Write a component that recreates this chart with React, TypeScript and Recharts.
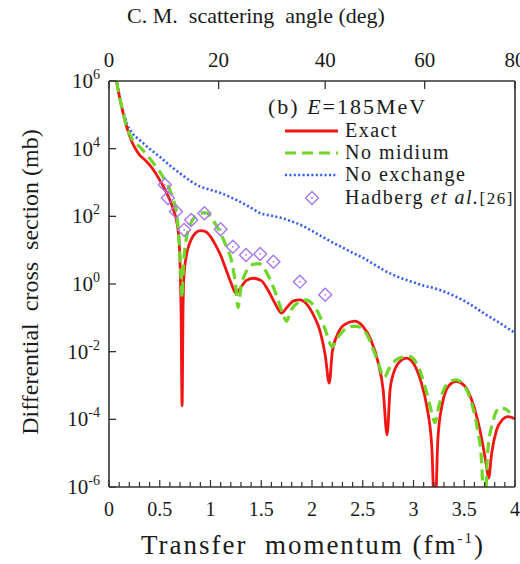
import React from "react";
import { ComposedChart, Line, Scatter, XAxis, YAxis } from "recharts";

const FONT = "'Liberation Serif', 'Times New Roman', Times, 'DejaVu Serif', serif";
const AXIS = "#333";
const RED = "#f31414";
const GREEN = "#6fd62a";
const BLUE = "#2f5bf0";
const PURPLE = "#a877f0";

// transfer momentum q (fm^-1) and log10 of the cross section (mb)
const exactQ = [
  0.05, 0.08, 0.12, 0.16, 0.2, 0.25, 0.3, 0.35, 0.4, 0.45, 0.5, 0.55, 0.6, 0.64, 0.67, 0.69, 0.7, 0.71,
  0.72, 0.73, 0.74, 0.76, 0.8, 0.85, 0.9, 0.95, 1.0, 1.05, 1.1, 1.15, 1.2, 1.25, 1.3, 1.35, 1.42, 1.5,
  1.57, 1.64, 1.7, 1.75, 1.82, 1.88, 1.95, 2.02, 2.08, 2.13, 2.17, 2.2, 2.25, 2.32, 2.42, 2.5, 2.58,
  2.65, 2.7, 2.74, 2.77, 2.82, 2.88, 2.93, 3.0, 3.07, 3.13, 3.18, 3.21, 3.24, 3.28, 3.35, 3.42, 3.5,
  3.57, 3.63, 3.68, 3.72, 3.74, 3.77, 3.82, 3.88, 3.93, 4.0,
];
const exactLog = [
  6.5, 5.9, 5.3, 4.8, 4.4, 4.05, 3.82, 3.68, 3.52, 3.32, 3.07, 2.8, 2.48, 2.15, 1.8, 1.3, 0.6, -0.8,
  -3.6, -0.6, 0.3, 0.8, 1.25, 1.5, 1.58, 1.55, 1.4, 1.15, 0.85, 0.45, 0.05, -0.27, -0.1, 0.1, 0.17, 0.1,
  -0.2, -0.6, -0.86, -0.7, -0.5, -0.47, -0.6, -0.95, -1.4, -2.1, -2.93, -2.0, -1.5, -1.2, -1.1, -1.25, -1.65,
  -2.3, -3.1, -4.46, -3.1, -2.5, -2.25, -2.19, -2.35, -2.85, -3.6, -4.8, -7, -4.6, -3.6, -3.0, -2.88, -3.0,
  -3.4, -4.0, -4.7, -5.4, -5.74, -5.0, -4.3, -4.0, -3.92, -3.98,
];

const noMediumQ = [
  0.05, 0.08, 0.12, 0.16, 0.2, 0.25, 0.3, 0.35, 0.4, 0.45, 0.5, 0.55, 0.6, 0.64, 0.67, 0.69, 0.71, 0.72,
  0.73, 0.75, 0.8, 0.85, 0.92, 0.96, 1.02, 1.09, 1.15, 1.22, 1.25, 1.27, 1.3, 1.35, 1.42, 1.48, 1.55,
  1.62, 1.68, 1.72, 1.75, 1.79, 1.86, 1.94, 2.0, 2.07, 2.13, 2.2, 2.25, 2.32, 2.4, 2.44, 2.52, 2.6, 2.66,
  2.71, 2.76, 2.85, 2.96, 3.04, 3.12, 3.18, 3.21, 3.25, 3.32, 3.42, 3.5, 3.57, 3.63, 3.67, 3.7, 3.73,
  3.78, 3.85, 3.91, 3.95,
];
const noMediumLog = [
  6.5, 5.9, 5.3, 4.8, 4.45, 4.18, 4.06, 3.9, 3.72, 3.52, 3.32, 3.07, 2.78, 2.45, 2.0, 1.3, 0.2, -0.4,
  0.3, 1.1, 1.75, 2.0, 2.1, 2.1, 1.9, 1.55, 1.15, 0.5, -0.1, -0.7, -0.1, 0.35, 0.58, 0.6, 0.35,
  -0.1, -0.6, -0.95, -1.1, -0.8, -0.55, -0.47, -0.58, -0.9, -1.35, -1.85, -1.6, -1.35, -1.25, -1.25, -1.4, -1.9, -2.4,
  -2.77, -2.5, -2.2, -2.14, -2.4, -3.1, -3.8, -4.1, -3.6, -3.0, -2.83, -3.0, -3.5, -4.3, -5.2, -7, -5.0,
  -4.1, -3.66, -3.7, -3.8,
];

const noExchangeQ = [
  0.06, 0.1, 0.14, 0.18, 0.22, 0.3, 0.4, 0.5, 0.6, 0.7, 0.8, 0.9, 1.0, 1.1, 1.2, 1.3, 1.4, 1.5, 1.6,
  1.7, 1.8, 1.9, 2.0, 2.1, 2.2, 2.3, 2.4, 2.5, 2.6, 2.7, 2.8, 2.9, 3.0, 3.1, 3.2, 3.3, 3.4, 3.5, 3.6,
  3.7, 3.8, 3.9, 4.0,
];
const noExchangeLog = [
  6.3, 5.6, 5.1, 4.72, 4.5, 4.26, 4.0, 3.76, 3.5, 3.27, 3.05, 2.88, 2.78, 2.69, 2.56, 2.42, 2.25, 2.08, 2.02,
  1.95, 1.85, 1.73, 1.57, 1.4, 1.23, 1.08, 0.92, 0.78, 0.6, 0.42, 0.27, 0.15, 0.05, -0.05, -0.12, -0.22, -0.35, -0.5, -0.68,
  -0.88, -1.06, -1.25, -1.45,
];

const hadbergQ = [0.55, 0.58, 0.66, 0.74, 0.81, 0.94, 1.1, 1.22, 1.35, 1.49, 1.62, 1.88, 2.13];
const hadbergLog = [2.93, 2.54, 2.14, 1.6, 1.89, 2.09, 1.62, 1.1, 0.86, 0.89, 0.66, 0.07, -0.32];

// axis ticks
const bottomTicks = [
  0, 0.1, 0.2, 0.3, 0.4, 0.5, 0.6, 0.7, 0.8, 0.9, 1, 1.1, 1.2, 1.3, 1.4, 1.5, 1.6, 1.7, 1.8, 1.9, 2,
  2.1, 2.2, 2.3, 2.4, 2.5, 2.6, 2.7, 2.8, 2.9, 3, 3.1, 3.2, 3.3, 3.4, 3.5, 3.6, 3.7, 3.8, 3.9, 4,
];
const bottomLabels = ["0", "0.5", "1", "1.5", "2", "2.5", "3", "3.5", "4"];
const topTickQ = [0, 1.08, 2.13, 3.11, 4];
const topTickDeg = ["0", "20", "40", "60", "80"];
const yTicks = [1e-6, 1e-4, 1e-2, 1, 1e2, 1e4, 1e6];
const yTickExp = ["-6", "-4", "-2", "0", "2", "4", "6"];

const toRows = (qs: number[], logs: number[]) => qs.map((q, i) => ({ q, v: Math.pow(10, logs[i]) }));

const exactData = toRows(exactQ, exactLog);
const noMediumData = toRows(noMediumQ, noMediumLog);
const noExchangeData = toRows(noExchangeQ, noExchangeLog);
const hadbergData = toRows(hadbergQ, hadbergLog);

const txt = (size: number, extra: React.CSSProperties = {}): React.CSSProperties => ({
  fontFamily: FONT,
  fontSize: size,
  fill: "#1a1a1a",
  ...extra,
});

function YTick(props: any) {
  const { x, y, payload } = props;
  const i = yTicks.indexOf(payload.value);
  return (
    <g>
      <line x1={x} x2={x + 7} y1={y} y2={y} stroke={AXIS} strokeWidth={1.3} />
      <text x={x - 9} y={y + 7} textAnchor="end" style={txt(21)}>
        10
        <tspan dy={-9} style={{ fontSize: 14 }}>
          {yTickExp[i]}
        </tspan>
      </text>
    </g>
  );
}

function BottomTick(props: any) {
  const { x, y, payload } = props;
  const v = payload.value;
  const major = Math.abs(v * 2 - Math.round(v * 2)) < 1e-6;
  return (
    <g>
      <line x1={x} x2={x} y1={y} y2={y - (major ? 7 : 5)} stroke={AXIS} strokeWidth={1.2} />
      {major && (
        <text x={x} y={y + 29} textAnchor="middle" style={txt(20)}>
          {bottomLabels[Math.round(v * 2)]}
        </text>
      )}
    </g>
  );
}

function TopTick(props: any) {
  const { x, y, payload } = props;
  const i = topTickQ.indexOf(payload.value);
  return (
    <g>
      <line x1={x} x2={x} y1={y} y2={y + 8} stroke={AXIS} strokeWidth={1.3} />
      <text x={x} y={y - 14} textAnchor="middle" style={txt(21)}>
        {topTickDeg[i]}
      </text>
    </g>
  );
}

function Diamond(props: any) {
  const { cx, cy } = props;
  if (cx == null || cy == null) return null;
  const r = 6.5;
  return (
    <g>
      <polygon
        points={`${cx},${cy - r} ${cx + r},${cy} ${cx},${cy + r} ${cx - r},${cy}`}
        fill="none"
        stroke={PURPLE}
        strokeWidth={1.4}
      />
      <circle cx={cx} cy={cy} r={0.9} fill={PURPLE} />
    </g>
  );
}

function Overlay() {
  const rows = [131, 153, 175, 198];
  const legendText = txt(20, { letterSpacing: 1.5 });
  return (
    <svg width={520} height={564} style={{ position: "absolute", left: 0, top: 0, pointerEvents: "none" }}>
      <text x={256} y={23} textAnchor="middle" style={txt(22, { whiteSpace: "pre" })}>
        C. M.  scattering  angle (deg)
      </text>
      <text
        transform="translate(38,282) rotate(-90)"
        textAnchor="middle"
        style={txt(24, { whiteSpace: "pre" })}
      >
        Differential  cross  section (mb)
      </text>
      <text x={313} y={554} textAnchor="middle" style={txt(27, { whiteSpace: "pre", letterSpacing: 2 })}>
        Transfer  momentum (fm
        <tspan dy={-11} style={{ fontSize: 15 }}>
          -1
        </tspan>
        <tspan dy={11}>)</tspan>
      </text>

      <text x={268} y={114} style={txt(22, { letterSpacing: 2 })}>
        (b) <tspan style={{ fontStyle: "italic" }}>E</tspan>=185MeV
      </text>
      <line x1={285} x2={338} y1={rows[0]} y2={rows[0]} stroke={RED} strokeWidth={3} />
      <line x1={285} x2={338} y1={rows[1]} y2={rows[1]} stroke={GREEN} strokeWidth={3.2} strokeDasharray="11 6" />
      <line x1={285} x2={338} y1={rows[2]} y2={rows[2]} stroke={BLUE} strokeWidth={2.6} strokeDasharray="2 2.4" />
      <Diamond cx={312} cy={rows[3]} />
      <text x={345} y={rows[0] + 6} style={legendText}>Exact</text>
      <text x={345} y={rows[1] + 6} style={legendText}>No midium</text>
      <text x={345} y={rows[2] + 6} style={legendText}>No exchange</text>
      <text x={345} y={rows[3] + 6} style={legendText}>
        Hadberg <tspan style={{ fontStyle: "italic" }}>et al.</tspan>
        <tspan style={{ fontSize: 17 }}>[26]</tspan>
      </text>
    </svg>
  );
}

export default function App() {
  return (
    <div style={{ position: "absolute", left: 0, top: 0, width: 520, height: 564, background: "#fff", fontFamily: FONT }}>
      <ComposedChart width={520} height={564} margin={{ top: 0, right: 0, bottom: 0, left: 0 }}>
        <XAxis
          xAxisId="bottom"
          dataKey="q"
          type="number"
          domain={[0, 4]}
          allowDataOverflow
          ticks={bottomTicks}
          interval={0}
          height={77}
          tickSize={0}
          tickMargin={0}
          tickLine={false}
          axisLine={{ stroke: AXIS, strokeWidth: 1.6 }}
          tick={<BottomTick />}
        />
        <XAxis
          xAxisId="top"
          orientation="top"
          dataKey="q"
          type="number"
          domain={[0, 4]}
          allowDataOverflow
          ticks={topTickQ}
          interval={0}
          height={81}
          tickSize={0}
          tickMargin={0}
          tickLine={false}
          axisLine={{ stroke: AXIS, strokeWidth: 1.6 }}
          tick={<TopTick />}
        />
        <YAxis
          yAxisId="left"
          dataKey="v"
          scale="log"
          type="number"
          domain={[1e-6, 1e6]}
          allowDataOverflow
          ticks={yTicks}
          interval={0}
          width={109}
          tickSize={0}
          tickMargin={0}
          tickLine={false}
          axisLine={{ stroke: AXIS, strokeWidth: 1.6 }}
          tick={<YTick />}
        />
        <YAxis
          yAxisId="right"
          orientation="right"
          scale="log"
          type="number"
          domain={[1e-6, 1e6]}
          allowDataOverflow
          width={5}
          tick={false}
          tickLine={false}
          axisLine={{ stroke: AXIS, strokeWidth: 1.6 }}
        />
        <Line
          xAxisId="bottom"
          yAxisId="left"
          data={noExchangeData}
          dataKey="v"
          type="monotone"
          stroke={BLUE}
          strokeWidth={2.6}
          strokeDasharray="2 2.4"
          dot={false}
          isAnimationActive={false}
        />
        <Line
          xAxisId="bottom"
          yAxisId="left"
          data={exactData}
          dataKey="v"
          type="monotone"
          stroke={RED}
          strokeWidth={2.8}
          dot={false}
          isAnimationActive={false}
        />
        <Line
          xAxisId="bottom"
          yAxisId="left"
          data={noMediumData}
          dataKey="v"
          type="monotone"
          stroke={GREEN}
          strokeWidth={3.2}
          strokeDasharray="11 6"
          dot={false}
          isAnimationActive={false}
        />
        <Scatter
          xAxisId="bottom"
          yAxisId="left"
          data={hadbergData}
          dataKey="v"
          shape={<Diamond />}
          isAnimationActive={false}
        />
      </ComposedChart>
      <Overlay />
    </div>
  );
}
